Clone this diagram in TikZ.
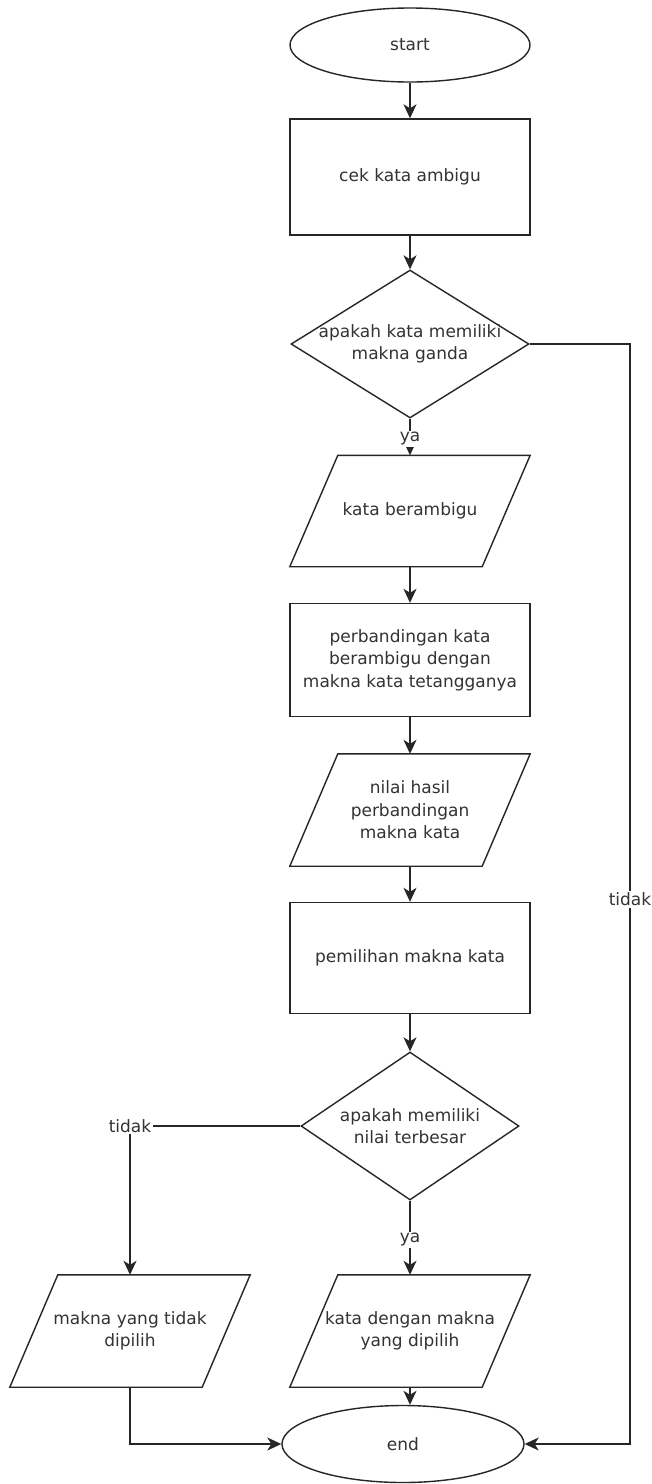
\documentclass[tikz,border=0pt]{standalone}
\usepackage{fontspec}
\setmainfont{DejaVu Sans}
\usetikzlibrary{shapes.geometric,arrows.meta}
\tikzset{
  txt/.style={font=\fontsize{17}{22.5}\selectfont, text=black!80, align=center},
  shp/.style={draw=black!85, line width=1.4pt},
  term/.style={shp, txt, ellipse, inner sep=0pt},
  proc/.style={shp, txt, rectangle, minimum width=240pt, inner sep=0pt},
  dec/.style={shp, diamond, inner sep=0pt},
  io/.style={txt, rectangle, minimum width=240pt, inner sep=0pt},
  arr/.style={draw=black!85, line width=1.4pt, -{Stealth[length=14pt,width=13pt,inset=4pt]}},
  lbl/.style={txt, fill=white, inner sep=1.5pt},
}
\begin{document}
\begin{tikzpicture}[x=1pt,y=1pt]
\useasboundingbox (0,0) rectangle (652,-1484);
\fill[white] (0,0) rectangle (652,-1484);
\node[term, minimum width=240pt, minimum height=74pt] (start) at (410,-45) {start};
\node[proc, minimum height=116pt] (r1) at (410,-177) {cek kata ambigu};
\node[dec, minimum width=238pt, minimum height=148pt,
  label={[txt]center:{apakah kata memiliki\\makna ganda}}] (d1) at (410,-344) {};
\node[io, minimum height=111pt] (p1) at (410,-511) {kata berambigu};
\node[proc, minimum height=113pt] (r2) at (410,-660) {perbandingan kata\\berambigu dengan\\makna kata tetangganya};
\node[io, minimum height=112pt] (p2) at (410,-810) {nilai hasil\\perbandingan\\makna kata};
\node[proc, minimum height=111pt] (r3) at (410,-958) {pemilihan makna kata};
\node[dec, minimum width=218pt, minimum height=148pt,
  label={[txt]center:{apakah memiliki\\nilai terbesar}}] (d2) at (410,-1126) {};
\node[io, minimum height=112pt] (p3) at (130,-1331) {makna yang tidak\\dipilih};
\node[io, minimum height=112pt] (p4) at (410,-1331) {kata dengan makna\\yang dipilih};
\node[term, minimum width=242pt, minimum height=77pt] (end) at (403,-1444) {end};
\foreach \n in {p1,p2,p3,p4}
  \draw[shp, line join=miter] (\n.south west) -- ([xshift=-48pt]\n.south east) -- (\n.north east) -- ([xshift=48pt]\n.north west) -- cycle;
\coordinate (c1) at (630,-344);
\coordinate (c2) at (630,-1444);
\draw[arr] (start.south) -- (r1.north);
\draw[arr] (r1.south) -- (d1.north);
\draw[arr] (d1.south) -- node[lbl, pos=0.55] {ya} (p1.north);
\draw[arr] (p1.south) -- (r2.north);
\draw[arr] (r2.south) -- (p2.north);
\draw[arr] (p2.south) -- (r3.north);
\draw[arr] (r3.south) -- (d2.north);
\draw[arr] (d2.south) -- node[lbl, pos=0.53] {ya} (p4.north);
\draw[arr] (d2.west) -| node[lbl, pos=0.5] {tidak} (p3.north);
\draw[arr] (p3.south) |- (end.west);
\draw[arr] (p4.south) -- (p4.south |- end.north);
\draw[arr] (d1.east) -- (c1) -- node[lbl, pos=0.505] {tidak} (c2) -- (end.east);
\end{tikzpicture}
\end{document}
